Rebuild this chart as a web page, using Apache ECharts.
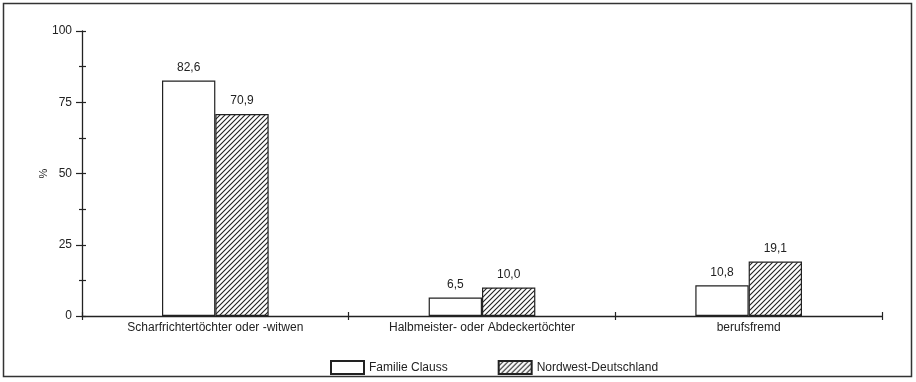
<!DOCTYPE html>
<html><head><meta charset="utf-8">
<script src="https://cdn.jsdelivr.net/npm/echarts@6/dist/echarts.min.js"></script>
<style>html,body{margin:0;padding:0;background:#fff}#c{width:916px;height:382px}</style>
</head><body><div id="c"></div>
<script>
var categories = ['Scharfrichtertöchter oder -witwen', 'Halbmeister- oder Abdeckertöchter', 'berufsfremd'];
var familieClauss = [82.6, 6.5, 10.8];
var nordwestDeutschland = [70.9, 10.0, 19.1];
var seriesNames = ['Familie Clauss', 'Nordwest-Deutschland'];
var yTicks = [0, 25, 50, 75, 100];

function hatch() {
  var s = 5, c = document.createElement('canvas');
  c.width = s; c.height = s;
  var g = c.getContext('2d');
  g.fillStyle = '#fff'; g.fillRect(0, 0, s, s);
  g.strokeStyle = '#222'; g.lineWidth = 1.1;
  g.beginPath();
  g.moveTo(-1, s + 1); g.lineTo(s + 1, -1);
  g.moveTo(-1, 1); g.lineTo(1, -1);
  g.moveTo(s - 1, s + 1); g.lineTo(s + 1, s - 1);
  g.stroke();
  return c;
}
var fmt = function (p) { return p.value.toFixed(1).replace('.', ','); };
var font = 'Liberation Sans, Arial, sans-serif';
var ink = '#222';
var chart = echarts.init(document.getElementById('c'));
chart.setOption({
  animation: false,
  textStyle: { fontFamily: font, color: ink },
  grid: { left: 82, right: 34, top: 31, bottom: 66, containLabel: false },
  graphic: [{ type: 'rect', shape: { x: 3.5, y: 3.5, width: 908, height: 373 }, style: { fill: 'none', stroke: '#333', lineWidth: 1.5 }, z: 100 }],
  legend: {
    left: 325, top: 355, itemWidth: 33, itemHeight: 13, itemGap: 50, icon: 'rect',
    textStyle: { fontFamily: font, fontSize: 12, color: ink },
    data: seriesNames
  },
  xAxis: [{
    type: 'category', data: categories, boundaryGap: true,
    axisLine: { lineStyle: { color: ink, width: 1.3 } },
    axisTick: { show: true, length: 4, lineStyle: { color: ink, width: 1.2 } },
    axisLabel: { fontFamily: font, fontSize: 12, color: ink, margin: 6, interval: 0 }
  }, {
    type: 'category', data: categories, position: 'bottom', boundaryGap: true,
    axisLine: { show: false },
    axisTick: { show: true, inside: true, length: 4, lineStyle: { color: ink, width: 1.2 } },
    axisLabel: { show: false }
  }],
  yAxis: [{
    type: 'value', min: 0, max: 100, interval: 25,
    name: '%', nameLocation: 'middle', nameRotate: 90, nameGap: 33, nameMoveOverlap: false,
    nameTextStyle: { fontFamily: font, fontSize: 11, color: ink },
    axisLine: { show: true, lineStyle: { color: ink, width: 1.3 } },
    axisTick: { show: true, length: 6, lineStyle: { color: ink, width: 1.2 } },
    minorTick: { show: true, splitNumber: 2, length: 3, lineStyle: { color: ink, width: 1.2 } },
    splitLine: { show: false },
    axisLabel: { fontFamily: font, fontSize: 12, color: ink, margin: 10,
      formatter: function (v) { return yTicks.indexOf(v) >= 0 ? String(v) : ''; } }
  }, {
    type: 'value', min: 0, max: 100, interval: 12.5, position: 'left',
    axisLine: { show: false },
    axisTick: { show: true, inside: true, length: 4, lineStyle: { color: ink, width: 1.2 } },
    splitLine: { show: false }, axisLabel: { show: false }
  }],
  series: [{
    name: seriesNames[0], type: 'bar', data: familieClauss, barWidth: '20%', barGap: '0%',
    itemStyle: { color: '#fff', borderColor: ink, borderWidth: 1.2 },
    label: { show: true, position: 'top', distance: 7, fontFamily: font, fontSize: 12, color: ink, formatter: fmt }
  }, {
    name: seriesNames[1], type: 'bar', data: nordwestDeutschland, barWidth: '20%', barGap: '0%',
    itemStyle: { color: { image: hatch(), repeat: 'repeat' }, borderColor: ink, borderWidth: 1.2 },
    label: { show: true, position: 'top', distance: 7, fontFamily: font, fontSize: 12, color: ink, formatter: fmt }
  }]
});
</script></body></html>
